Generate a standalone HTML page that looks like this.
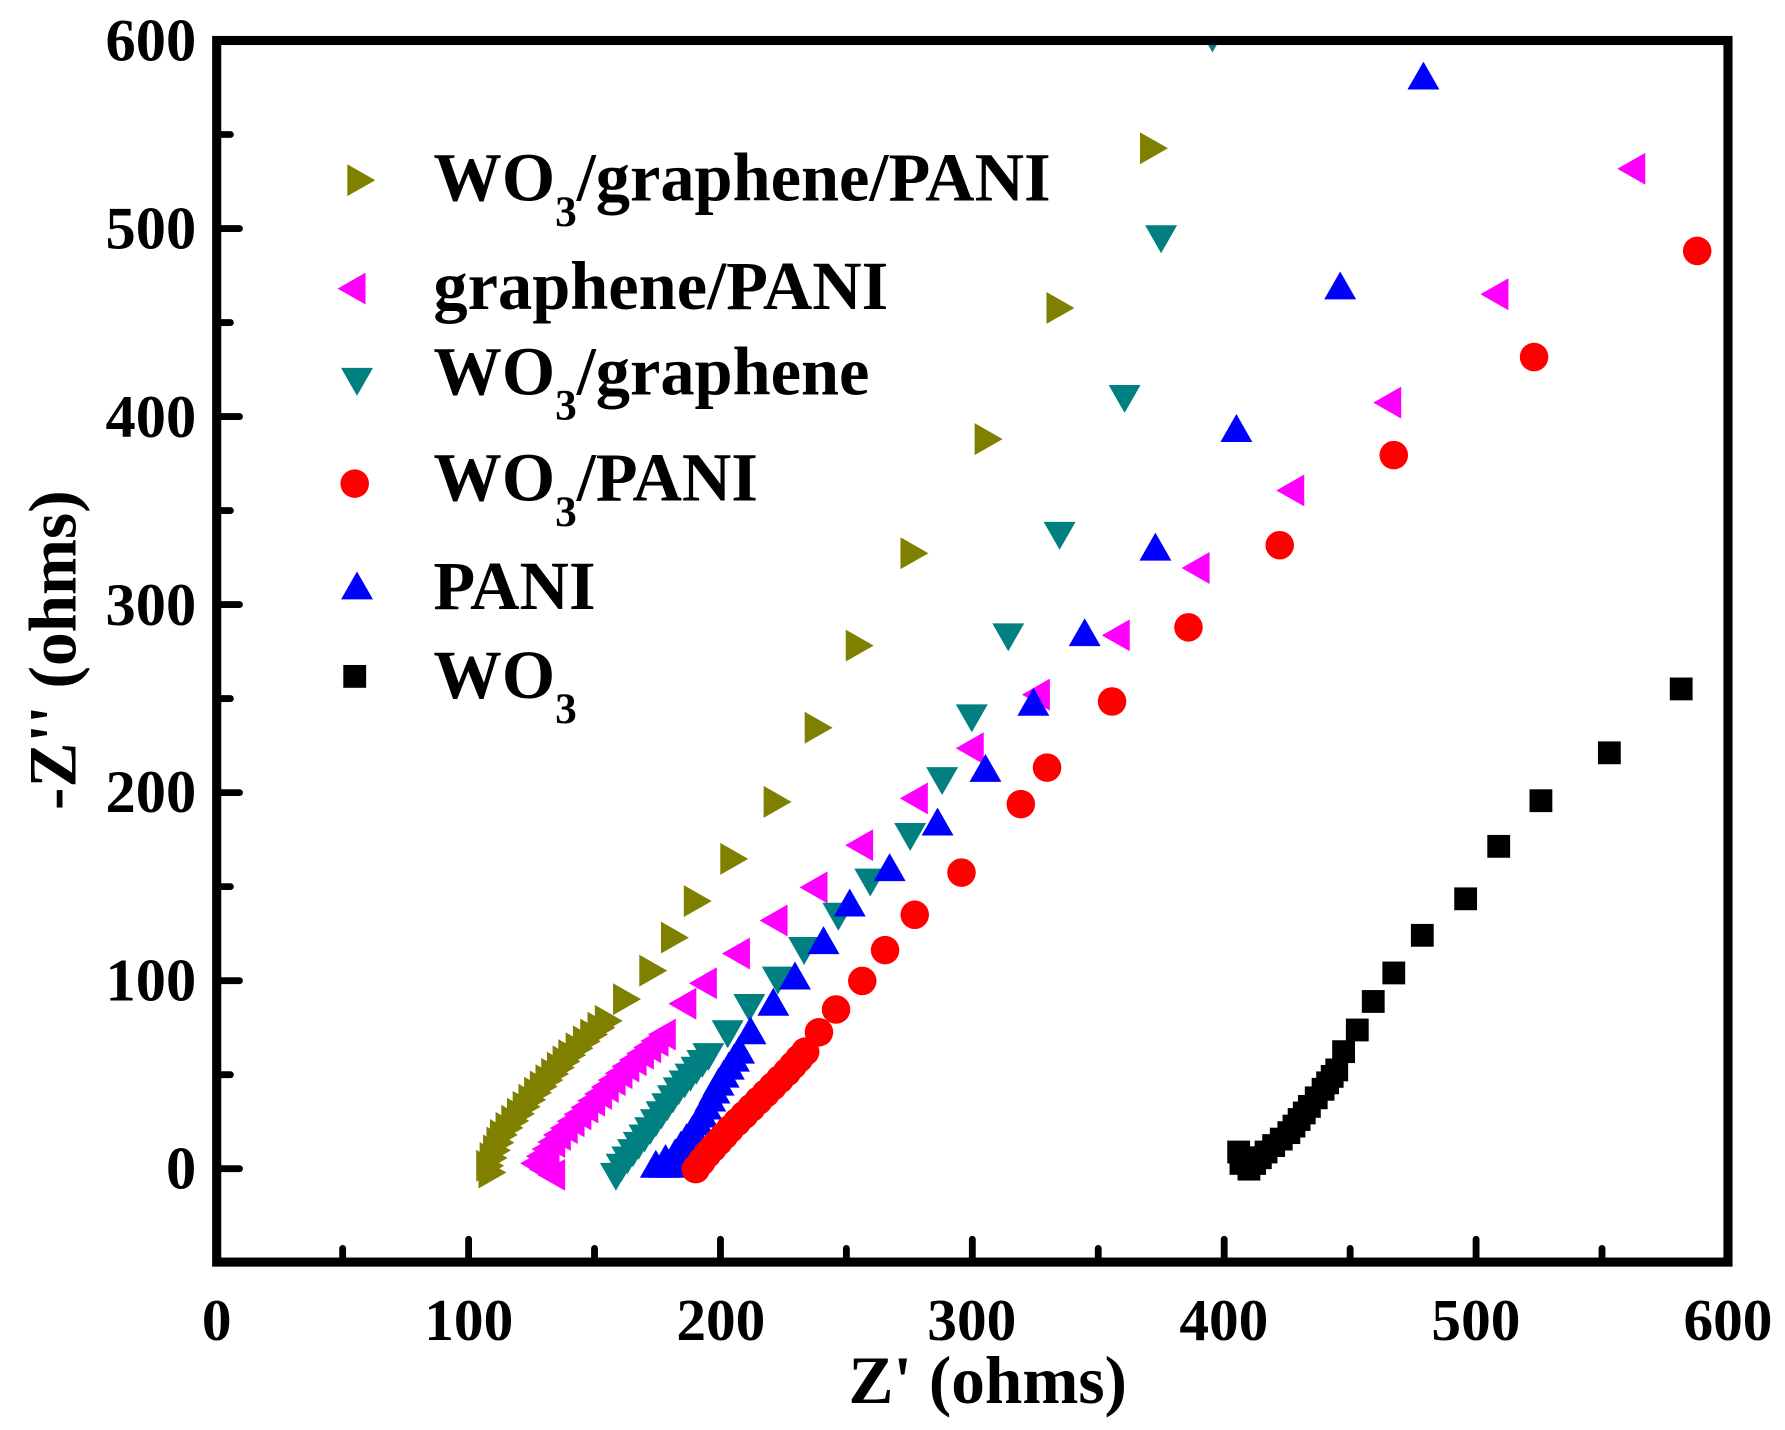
<!DOCTYPE html>
<html><head><meta charset="utf-8"><style>
html,body{margin:0;padding:0;background:#fff}
svg{display:block}
text{font-family:"Liberation Serif",serif;font-weight:bold;fill:#000}
</style></head><body>
<svg id="s" width="1785" height="1430" viewBox="0 0 1565 1253.7" preserveAspectRatio="none" xmlns="http://www.w3.org/2000/svg">
<defs><clipPath id="cp"><rect x="190" y="35.5" width="1325" height="1071"/></clipPath></defs>
<rect x="0" y="0" width="1565" height="1253.7" fill="#fff"/>
<g id="data" clip-path="url(#cp)"></g>
<rect x="190" y="35.5" width="1325" height="1071" fill="none" stroke="#000" stroke-width="8"/>
<g id="ticks" stroke="#000" stroke-width="6" stroke-linecap="round"></g>
<g font-size="53" text-anchor="end">
<text x="172" y="53">600</text><text x="172" y="218">500</text><text x="172" y="383">400</text>
<text x="172" y="548">300</text><text x="172" y="712">200</text><text x="172" y="877">100</text>
<text x="172" y="1042">0</text>
</g>
<g font-size="52" text-anchor="middle">
<text x="190" y="1175">0</text><text x="411" y="1175">100</text><text x="632" y="1175">200</text>
<text x="852" y="1175">300</text><text x="1073" y="1175">400</text><text x="1294" y="1175">500</text>
<text x="1515" y="1175">600</text>
</g>
<text x="866" y="1230" font-size="59" text-anchor="middle">Z' (ohms)</text>
<text transform="translate(66,570) rotate(-90)" font-size="59" text-anchor="middle">-Z'' (ohms)</text>
<g font-size="60">
<text x="380" y="176">WO<tspan font-size="38" dy="22">3</tspan><tspan dy="-22">/graphene/PANI</tspan></text>
<text x="380" y="271">graphene/PANI</text>
<text x="380" y="346">WO<tspan font-size="38" dy="22">3</tspan><tspan dy="-22">/graphene</tspan></text>
<text x="380" y="439">WO<tspan font-size="38" dy="22">3</tspan><tspan dy="-22">/PANI</tspan></text>
<text x="380" y="534">PANI</text>
<text x="380" y="612">WO<tspan font-size="38" dy="22">3</tspan></text>
</g>
<g id="legend"></g>
</svg>
<script>
var NS="http://www.w3.org/2000/svg";
function X(v){return 190+v*2.2083}
function Y(v){return 35.5+(600-v)*1.6485}
var tk=document.getElementById('ticks'),d='';
for(var v=0;v<=600;v+=50){var L=(v%100==0)?20:12;
d+='M'+X(v)+' 1106.5 L'+X(v)+' '+(1106.5-L)+' ';}
for(var v=-50;v<=600;v+=50){var L=(v%100==0)?20:12;
d+='M190 '+Y(v)+' L'+(190+L)+' '+Y(v)+' ';}
var p=document.createElementNS(NS,'path');p.setAttribute('d',d);tk.appendChild(p);
function mk(g,t,x,y,c){var e;
 if(t=='c'){e=document.createElementNS(NS,'circle');e.setAttribute('cx',x);e.setAttribute('cy',y);e.setAttribute('r',12.5);}
 else if(t=='s'){e=document.createElementNS(NS,'rect');e.setAttribute('x',x-10);e.setAttribute('y',y-10);e.setAttribute('width',20);e.setAttribute('height',20);}
 else{var s=14,pts;
  if(t=='u')pts=[[x,y-s],[x-s,y+s*0.75],[x+s,y+s*0.75]];
  if(t=='d')pts=[[x,y+s],[x-s,y-s*0.75],[x+s,y-s*0.75]];
  if(t=='r')pts=[[x+s,y],[x-s*0.75,y-s],[x-s*0.75,y+s]];
  if(t=='l')pts=[[x-s,y],[x+s*0.75,y-s],[x+s*0.75,y+s]];
  e=document.createElementNS(NS,'polygon');e.setAttribute('points',pts.map(function(q){return q.join(',')}).join(' '));}
 e.setAttribute('fill',c);g.appendChild(e);}
function series(t,c,pts,tail){var g=document.getElementById('data');
 pts.forEach(function(q){mk(g,t,q[0],q[1],c)});
 for(var i=0;i<tail.length-1;i++){var a=tail[i],b=tail[i+1];var dx=b[0]-a[0],dy=b[1]-a[1];var n=Math.max(1,Math.round(Math.hypot(dx,dy)/8));
  for(var k=0;k<n;k++)mk(g,t,a[0]+dx*k/n,a[1]+dy*k/n,c);}
 var l=tail[tail.length-1];mk(g,t,l[0],l[1],c);}
series('r','#808000',[[1010,130],[928,270],[865,385],[800,485],[752,566],[716,638],[680,703],[642,753],[610,790],[590,822],[571,851],[548,876]],
 [[532,895],[500,925],[470,958],[440,995],[428,1022],[430,1028]]);
series('l','#ff00ff',[[1432,148],[1312,258],[1218,353],[1133,430],[1050,498],[980,557],[910,609],[852,656],[803,700],[755,741],[715,778],[680,807],[647,836],[618,862],[600,880]],
 [[582,907],[550,935],[520,965],[490,995],[470,1020],[485,1030]]);
series('d','#008080',[[1063,32],[1018,208],[986,348],[929,468],[884,557],[852,628],[826,683],[798,732],[763,772],[735,802],[705,832],[682,858],[657,882],[638,905]],
 [[621,925],[595,955],[570,990],[545,1022],[540,1030]]);
series('u','#0000ff',[[1248,68],[1175,252],[1084,377],[1013,481],[951,556],[906,617],[864,675],[822,722],[780,762],[745,793],[722,826],[697,857],[678,880],[658,905]],
 [[648,922],[630,950],[612,985],[592,1012],[575,1022],[590,1022]]);
series('c','#ff0000',[[1488,220],[1345,313],[1222,399],[1122,478],[1042,550],[975,615],[918,673],[895,705],[843,765],[802,802],[776,833],[756,860],[733,885],[718,905]],
 [[706,922],[690,940],[665,965],[640,990],[620,1012],[610,1025]]);
series('s','#000000',[[1474,604],[1411,660],[1351,702],[1314,742],[1285,788],[1247,820],[1222,853],[1204,878],[1190,903],[1178,922]],
 [[1172,938],[1160,955],[1148,970],[1130,993],[1110,1010],[1095,1025],[1088,1020],[1086,1010]]);
var lg=document.getElementById('legend');
mk(lg,'r',315,158,'#808000');mk(lg,'l',310,253,'#ff00ff');mk(lg,'d',313,333,'#008080');
mk(lg,'c',311,424,'#ff0000');mk(lg,'u',313,515,'#0000ff');mk(lg,'s',311,593,'#000000');
</script>
</body></html>
